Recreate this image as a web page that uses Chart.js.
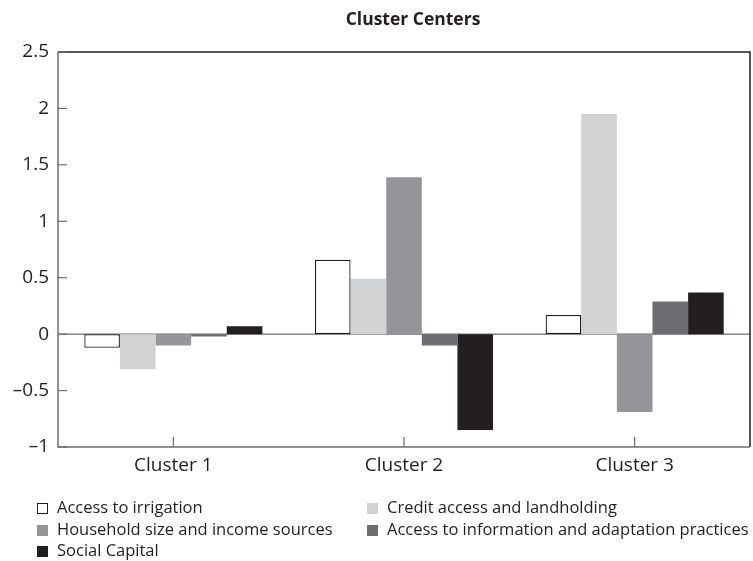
<!DOCTYPE html>
<html>
<head>
<meta charset="utf-8">
<title>Cluster Centers</title>
<script src="https://cdn.jsdelivr.net/npm/chart.js@4"></script>
<style>
  html, body { margin: 0; padding: 0; background: #fff; }
  #wrap { position: relative; width: 753px; height: 561px; }
</style>
</head>
<body>
<div id="wrap"><canvas id="clusterChart"></canvas></div>
<script>
// data
const clusters = ['Cluster 1', 'Cluster 2', 'Cluster 3'];
const seriesNames = [
  'Access to irrigation',
  'Credit access and landholding',
  'Household size and income sources',
  'Access to information and adaptation practices',
  'Social Capital'
];
const irrigation = [-0.12, 0.66, 0.17];
const credit = [-0.31, 0.49, 1.95];
const household = [-0.10, 1.39, -0.69];
const information = [-0.02, -0.10, 0.29];
const socialCapital = [0.07, -0.85, 0.37];
const yTicks = [-1, -0.5, 0, 0.5, 1, 1.5, 2, 2.5];

const ink = '#231f20';
const fills = ['#ffffff', '#d1d2d4', '#939598', '#6d6e71', '#231f20'];
const font = '"Open Sans", Lato, sans-serif';

const allValues = [irrigation, credit, household, information, socialCapital];
const datasets = allValues.map(function (vals, i) {
  return {
    label: seriesNames[i],
    data: vals,
    backgroundColor: fills[i],
    borderColor: i === 0 ? ink : fills[i],
    borderWidth: i === 0 ? 1.3 : 0,
    borderSkipped: false
  };
});

// frame, zero line, inward ticks, title and the two-column legend
const decorations = {
  id: 'decorations',
  beforeDatasetsDraw(chart) {
    const { ctx, chartArea: a } = chart;
    const y0 = chart.scales.y.getPixelForValue(0);
    ctx.save();
    ctx.strokeStyle = '#6d6e71';
    ctx.lineWidth = 1.2;
    ctx.beginPath();
    ctx.moveTo(a.left, y0);
    ctx.lineTo(a.right, y0);
    ctx.stroke();
    ctx.restore();
  },
  afterDraw(chart) {
    const { ctx, chartArea: a } = chart;
    const xs = chart.scales.x, ys = chart.scales.y;
    ctx.save();
    ctx.lineWidth = 1.5;
    ctx.strokeStyle = ink;
    ctx.beginPath();
    ctx.moveTo(a.left, a.top);
    ctx.lineTo(a.right, a.top);
    ctx.lineTo(a.right, a.bottom);
    ctx.stroke();
    ctx.strokeStyle = '#6d6e71';
    ctx.beginPath();
    ctx.moveTo(a.left, a.top);
    ctx.lineTo(a.left, a.bottom);
    ctx.lineTo(a.right, a.bottom);
    ctx.stroke();
    ctx.lineWidth = 1.2;
    yTicks.forEach(function (v) {
      const y = ys.getPixelForValue(v);
      ctx.beginPath();
      ctx.moveTo(a.left, y);
      ctx.lineTo(a.left + 9, y);
      ctx.stroke();
    });
    clusters.forEach(function (c, i) {
      const x = xs.getPixelForValue(i);
      ctx.beginPath();
      ctx.moveTo(x, a.bottom);
      ctx.lineTo(x, a.bottom - 10);
      ctx.stroke();
    });

    // title
    ctx.fillStyle = ink;
    ctx.font = 'bold 17.5px ' + font;
    ctx.textAlign = 'center';
    ctx.textBaseline = 'middle';
    ctx.fillText('Cluster Centers', 413, 20);

    // legend
    ctx.font = '16.5px ' + font;
    ctx.textAlign = 'left';
    const colX = [37, 367];
    const rowY = [508, 530, 551];
    chart.data.datasets.forEach(function (ds, i) {
      const x = colX[i % 2], y = rowY[Math.floor(i / 2)];
      ctx.fillStyle = ds.backgroundColor;
      ctx.fillRect(x, y - 5, 11, 11);
      if (ds.borderWidth) {
        ctx.strokeStyle = ink;
        ctx.lineWidth = 1;
        ctx.strokeRect(x + 0.5, y - 4.5, 10, 10);
      }
      ctx.fillStyle = ink;
      ctx.fillText(ds.label, x + 20, y);
    });
    ctx.restore();
  }
};

new Chart(document.getElementById('clusterChart').getContext('2d'), {
  type: 'bar',
  data: { labels: clusters, datasets: datasets },
  options: {
    responsive: true,
    maintainAspectRatio: false,
    animation: false,
    layout: { padding: { top: 52, right: 3, left: 0, bottom: 0 } },
    categoryPercentage: 0.772,
    barPercentage: 1,
    plugins: {
      legend: { display: false },
      tooltip: { enabled: false }
    },
    scales: {
      x: {
        grid: { display: false, drawTicks: false },
        border: { display: false },
        ticks: { color: ink, font: { family: font, size: 19 }, padding: 7 },
        afterFit(scale) { scale.height = 114; }
      },
      y: {
        min: -1,
        max: 2.5,
        grid: { display: false, drawTicks: false },
        border: { display: false },
        ticks: {
          stepSize: 0.5,
          color: ink,
          padding: 9,
          font: { family: font, size: 19 },
          callback: function (v) { return String(v).replace('-', '\u2013'); }
        },
        afterFit(scale) { scale.width = 58; }
      }
    }
  },
  plugins: [decorations]
});
</script>
</body>
</html>
